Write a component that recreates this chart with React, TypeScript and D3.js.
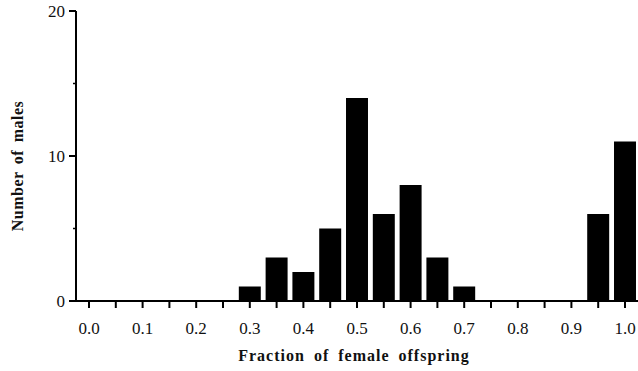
import { useEffect, useRef } from 'react'
import * as d3 from 'd3'

const fractions = [0.3, 0.35, 0.4, 0.45, 0.5, 0.55, 0.6, 0.65, 0.7, 0.95, 1.0]
const counts = [1, 3, 2, 5, 14, 6, 8, 3, 1, 6, 11]
const xTickLabels = ['0.0', '0.1', '0.2', '0.3', '0.4', '0.5', '0.6', '0.7', '0.8', '0.9', '1.0']
const yTickLabels = [0, 10, 20]

const width = 638
const height = 371

export default function App() {
  const svgRef = useRef<SVGSVGElement>(null)

  useEffect(() => {
    if (!svgRef.current) return
    const svg = d3.select(svgRef.current)
    svg.selectAll('*').remove()

    const x = d3.scaleLinear().domain([0, 1]).range([89, 625])
    const y = d3.scaleLinear().domain([0, 20]).range([301, 11])
    const axisX = 76
    const font = '"Liberation Serif", "Times New Roman", serif'

    // bars
    const halfW = 0.0205
    svg
      .selectAll('.bar')
      .data(fractions)
      .enter()
      .append('rect')
      .attr('class', 'bar')
      .attr('x', (d) => x(d - halfW))
      .attr('y', (d, i) => y(counts[i]))
      .attr('width', x(2 * halfW) - x(0))
      .attr('height', (d, i) => y(0) - y(counts[i]))
      .attr('fill', '#000')

    // x axis line
    svg
      .append('line')
      .attr('x1', axisX)
      .attr('x2', width)
      .attr('y1', y(0))
      .attr('y2', y(0))
      .attr('stroke', '#000')
      .attr('stroke-width', 2)

    // y axis line
    svg
      .append('line')
      .attr('x1', axisX)
      .attr('x2', axisX)
      .attr('y1', y(20))
      .attr('y2', y(0))
      .attr('stroke', '#000')
      .attr('stroke-width', 2)

    // x ticks every 0.05
    const xTicks = d3.range(0, 21).map((i) => i * 0.05)
    svg
      .selectAll('.xtick')
      .data(xTicks)
      .enter()
      .append('line')
      .attr('x1', (d) => x(d))
      .attr('x2', (d) => x(d))
      .attr('y1', y(0))
      .attr('y2', y(0) + 7)
      .attr('stroke', '#000')
      .attr('stroke-width', 2)

    svg
      .selectAll('.xlabel')
      .data(xTickLabels)
      .enter()
      .append('text')
      .attr('x', (d) => x(+d))
      .attr('y', 334)
      .attr('text-anchor', 'middle')
      .style('font-family', font)
      .style('font-size', '17px')
      .style('fill', '#111')
      .text((d) => d)

    // y ticks
    svg
      .selectAll('.ytick')
      .data(yTickLabels)
      .enter()
      .append('line')
      .attr('x1', axisX - 7)
      .attr('x2', axisX)
      .attr('y1', (d) => y(d))
      .attr('y2', (d) => y(d))
      .attr('stroke', '#000')
      .attr('stroke-width', 2)

    svg
      .selectAll('.yminor')
      .data([5, 15])
      .enter()
      .append('line')
      .attr('x1', axisX - 3)
      .attr('x2', axisX)
      .attr('y1', (d) => y(d))
      .attr('y2', (d) => y(d))
      .attr('stroke', '#000')
      .attr('stroke-width', 1.5)

    svg
      .selectAll('.ylabel')
      .data(yTickLabels)
      .enter()
      .append('text')
      .attr('x', 65)
      .attr('y', (d) => y(d) + 6)
      .attr('text-anchor', 'end')
      .style('font-family', font)
      .style('font-size', '17px')
      .style('fill', '#111')
      .text((d) => String(d))

    // axis titles
    svg
      .append('text')
      .attr('x', 354)
      .attr('y', 361)
      .attr('text-anchor', 'middle')
      .style('font-family', font)
      .style('font-size', '16px')
      .style('font-weight', 'bold')
      .style('letter-spacing', '1px')
      .style('word-spacing', '4px')
      .style('fill', '#111')
      .text('Fraction of female offspring')

    svg
      .append('text')
      .attr('transform', `translate(23,${166}) rotate(-90)`)
      .attr('text-anchor', 'middle')
      .style('font-family', font)
      .style('font-size', '16px')
      .style('font-weight', 'bold')
      .style('letter-spacing', '0.5px')
      .style('word-spacing', '3px')
      .style('fill', '#111')
      .text('Number of males')
  }, [])

  return (
    <svg
      ref={svgRef}
      width={width}
      height={height}
      style={{ position: 'absolute', left: 0, top: 0, background: '#fff' }}
    />
  )
}
